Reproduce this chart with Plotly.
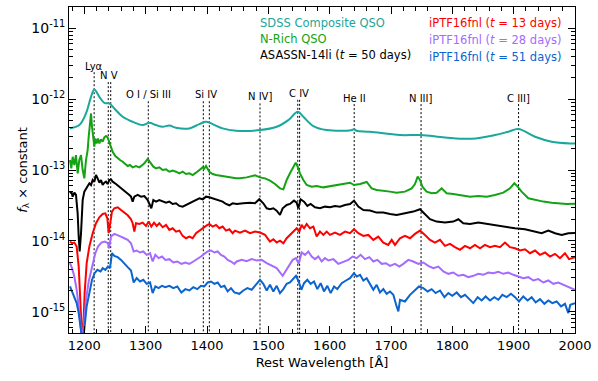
import plotly.graph_objects as go

# ---------------- data (rest wavelength in Angstrom, log10 of f_lambda x constant) ----------------
sdss_wave = [1176.6, 1191.8, 1202.7, 1210.9, 1216.3, 1224.5, 1232.6, 1240.8, 1248.9, 1262.5, 1278.8,
             1295.1, 1306.0, 1316.8, 1327.7, 1338.6, 1349.5, 1371.2, 1387.5, 1398.4, 1409.2, 1425.5,
             1447.3, 1486.4, 1513.6, 1532.6, 1548.0, 1557.1, 1573.4, 1595.1, 1635.0, 1639.7, 1644.0,
             1665.8, 1714.7, 1748.9, 1788.0, 1831.5, 1869.5, 1891.3, 1907.6, 1934.8, 1961.9, 1991.8, 2000.0]
sdss_logf = [-12.413, -12.366, -12.202, -11.967, -11.864, -11.967, -12.052, -12.061, -12.132, -12.249, -12.320,
             -12.366, -12.334, -12.366, -12.390, -12.371, -12.404, -12.413, -12.352, -12.320, -12.352, -12.413,
             -12.446, -12.437, -12.390, -12.296, -12.179, -12.249, -12.381, -12.437, -12.440, -12.425, -12.446,
             -12.460, -12.507, -12.507, -12.540, -12.559, -12.507, -12.460, -12.423, -12.531, -12.601, -12.625, -12.625]

nrich_wave = [1176.6, 1178.8, 1181.0, 1183.7, 1186.4, 1189.1, 1191.8, 1194.6, 1197.3, 1200.0, 1202.7, 1205.4,
              1207.1, 1209.3, 1210.9, 1212.5, 1214.7, 1216.3, 1217.9, 1220.1, 1222.3, 1224.5, 1227.2, 1229.9,
              1232.6, 1235.3, 1238.0, 1240.8, 1246.2, 1250.5, 1254.3, 1258.2, 1262.5, 1266.8, 1270.7, 1274.5,
              1278.8, 1284.2, 1289.7, 1294.0, 1297.8, 1303.3, 1308.7, 1312.5, 1316.8, 1322.3, 1327.7, 1333.2,
              1338.6, 1344.0, 1349.5, 1354.9, 1360.3, 1365.8, 1371.2, 1376.6, 1382.1, 1387.5, 1393.0, 1395.7,
              1398.4, 1403.8, 1409.2, 1414.7, 1422.8, 1431.0, 1439.1, 1447.3, 1453.8, 1464.7, 1478.3, 1486.4,
              1494.6, 1502.7, 1510.9, 1519.0, 1524.5, 1529.9, 1535.3, 1540.8, 1544.6, 1547.8, 1551.6, 1557.1,
              1562.5, 1570.7, 1578.8, 1589.7, 1600.5, 1611.4, 1622.3, 1633.2, 1639.7, 1649.5, 1660.3, 1668.5,
              1676.6, 1687.5, 1698.4, 1709.2, 1722.8, 1733.7, 1739.1, 1743.5, 1747.3, 1751.1, 1758.1, 1766.3,
              1774.4, 1782.6, 1790.7, 1801.6, 1815.2, 1828.8, 1842.4, 1856.0, 1869.5, 1883.1, 1894.0, 1901.1,
              1906.5, 1913.0, 1923.9, 1934.8, 1948.3, 1961.9, 1975.5, 1986.4, 2000.0]
nrich_logf = [-12.859, -12.977, -12.813, -12.930, -12.789, -13.047, -12.859, -12.789, -13.000, -13.118, -12.859, -12.719,
              -12.531, -12.343, -12.202, -12.390, -12.531, -12.672, -12.554, -12.625, -12.554, -12.625, -12.568, -12.601,
              -12.540, -12.521, -12.540, -12.601, -12.742, -12.803, -12.836, -12.859, -12.883, -12.916, -12.944, -12.930,
              -12.963, -12.944, -12.963, -12.935, -12.906, -12.845, -12.906, -12.953, -12.977, -12.963, -13.000, -12.991,
              -13.024, -13.009, -13.024, -13.047, -13.024, -13.057, -13.047, -13.071, -13.038, -13.000, -12.963, -12.981,
              -12.944, -13.024, -13.057, -13.071, -13.085, -13.094, -13.104, -13.118, -13.118, -13.104, -13.075, -13.104,
              -13.118, -13.151, -13.198, -13.259, -13.273, -13.141, -13.047, -12.944, -12.897, -12.953, -13.047, -13.141,
              -13.212, -13.235, -13.226, -13.245, -13.226, -13.212, -13.198, -13.179, -13.212, -13.198, -13.169, -13.259,
              -13.282, -13.291, -13.305, -13.320, -13.305, -13.259, -13.198, -13.094, -13.141, -13.235, -13.305, -13.329,
              -13.320, -13.259, -13.329, -13.338, -13.352, -13.376, -13.367, -13.376, -13.352, -13.320, -13.259, -13.188,
              -13.235, -13.305, -13.399, -13.423, -13.446, -13.461, -13.470, -13.479, -13.475]

asassn_wave = [1176.6, 1178.8, 1181.0, 1183.7, 1186.4, 1189.1, 1190.8, 1192.4, 1194.6, 1197.3, 1200.0, 1202.7,
               1205.4, 1208.2, 1210.9, 1213.6, 1216.3, 1219.0, 1221.7, 1224.5, 1227.2, 1229.9, 1232.6, 1235.3,
               1238.0, 1240.8, 1243.5, 1246.2, 1251.6, 1257.1, 1262.5, 1267.9, 1273.4, 1276.1, 1278.8, 1281.5,
               1287.0, 1292.4, 1297.8, 1303.3, 1307.1, 1309.2, 1312.5, 1316.8, 1322.3, 1327.7, 1333.2, 1338.6,
               1344.0, 1349.5, 1354.9, 1360.3, 1365.8, 1371.2, 1379.3, 1387.5, 1393.0, 1398.4, 1403.8, 1409.2,
               1417.4, 1425.5, 1431.0, 1436.4, 1441.8, 1448.4, 1459.2, 1470.1, 1478.3, 1485.3, 1491.8, 1497.3,
               1502.7, 1508.2, 1513.6, 1519.0, 1523.4, 1529.9, 1535.3, 1541.8, 1546.2, 1548.9, 1552.7, 1558.2,
               1563.6, 1569.0, 1576.1, 1584.2, 1592.4, 1600.5, 1608.7, 1616.8, 1625.0, 1633.2, 1639.7, 1646.7,
               1654.9, 1665.8, 1676.6, 1687.5, 1698.4, 1709.2, 1722.8, 1736.4, 1747.3, 1755.4, 1763.6, 1774.4,
               1788.0, 1801.6, 1809.8, 1817.9, 1828.8, 1842.4, 1856.0, 1869.5, 1885.8, 1902.2, 1918.5, 1934.8,
               1945.6, 1956.5, 1967.4, 1978.3, 1989.1, 2000.0]
asassn_logf = [-13.329, -13.305, -13.376, -13.320, -13.352, -13.611, -13.939, -14.150, -13.892, -13.423, -13.305, -13.259,
               -13.226, -13.188, -13.212, -13.141, -13.165, -13.071, -13.118, -13.179, -13.141, -13.212, -13.179, -13.165,
               -13.198, -13.141, -13.132, -13.165, -13.198, -13.235, -13.273, -13.305, -13.352, -13.376, -13.446, -13.376,
               -13.352, -13.376, -13.367, -13.423, -13.517, -13.540, -13.423, -13.446, -13.423, -13.446, -13.461, -13.446,
               -13.479, -13.470, -13.507, -13.517, -13.493, -13.470, -13.432, -13.399, -13.413, -13.376, -13.385, -13.399,
               -13.423, -13.446, -13.479, -13.498, -13.470, -13.479, -13.470, -13.461, -13.470, -13.413, -13.470, -13.540,
               -13.554, -13.540, -13.573, -13.634, -13.540, -13.493, -13.479, -13.432, -13.461, -13.540, -13.413, -13.446,
               -13.507, -13.479, -13.526, -13.540, -13.517, -13.526, -13.507, -13.517, -13.493, -13.479, -13.432, -13.517,
               -13.564, -13.573, -13.601, -13.601, -13.620, -13.634, -13.611, -13.587, -13.554, -13.620, -13.695, -13.728,
               -13.742, -13.728, -13.695, -13.751, -13.761, -13.742, -13.761, -13.775, -13.798, -13.822, -13.836, -13.869,
               -13.892, -13.855, -13.892, -13.916, -13.892, -13.888]

ptf13_wave = [1176.6, 1179.9, 1183.7, 1187.5, 1190.8, 1193.5, 1196.2, 1198.4, 1200.5, 1203.8, 1208.2, 1213.6,
              1219.0, 1224.5, 1229.9, 1234.2, 1237.5, 1239.7, 1242.4, 1245.1, 1248.9, 1254.3, 1259.8, 1265.2,
              1270.7, 1276.1, 1278.8, 1281.5, 1284.2, 1289.7, 1295.1, 1300.5, 1304.9, 1309.2, 1313.6, 1318.0,
              1322.3, 1327.7, 1333.2, 1338.6, 1344.0, 1349.5, 1354.9, 1360.3, 1365.8, 1371.2, 1376.6, 1382.1,
              1387.5, 1393.0, 1398.4, 1403.8, 1409.2, 1414.7, 1420.1, 1425.5, 1431.0, 1436.4, 1441.8, 1445.7,
              1453.8, 1462.0, 1470.1, 1478.3, 1486.4, 1494.6, 1502.7, 1508.2, 1513.6, 1519.0, 1524.5, 1529.9,
              1535.3, 1540.8, 1546.2, 1550.5, 1554.3, 1558.2, 1562.5, 1567.9, 1573.4, 1578.8, 1584.2, 1589.7,
              1595.1, 1600.5, 1608.7, 1616.8, 1625.0, 1633.2, 1639.7, 1646.7, 1654.9, 1663.0, 1671.2, 1679.3,
              1687.5, 1695.6, 1701.1, 1706.5, 1714.7, 1722.8, 1731.0, 1739.1, 1747.3, 1755.4, 1763.6, 1771.7,
              1779.9, 1788.0, 1796.2, 1804.3, 1812.5, 1820.6, 1828.8, 1836.9, 1845.1, 1853.2, 1861.4, 1869.5,
              1877.7, 1885.8, 1894.0, 1902.2, 1910.3, 1918.5, 1926.6, 1934.8, 1942.9, 1951.1, 1959.2, 1967.4,
              1975.5, 1983.7, 1990.2, 2000.0]
ptf13_logf = [-14.010, -14.033, -14.024, -14.080, -14.362, -14.831, -15.348, -15.207, -14.737, -14.315, -14.080, -13.892,
              -13.751, -13.667, -13.620, -13.611, -13.681, -13.892, -13.751, -13.587, -13.540, -13.526, -13.564, -13.601,
              -13.639, -13.695, -13.751, -13.869, -13.751, -13.761, -13.742, -13.789, -13.728, -13.798, -13.742, -13.789,
              -13.751, -13.808, -13.775, -13.845, -13.822, -13.869, -13.855, -13.930, -13.963, -13.939, -13.963, -13.892,
              -13.855, -13.822, -13.789, -13.761, -13.798, -13.775, -13.822, -13.798, -13.855, -13.836, -13.892, -13.855,
              -13.883, -13.855, -13.892, -13.869, -13.883, -13.916, -14.010, -13.977, -14.024, -13.996, -14.033, -13.963,
              -13.916, -13.869, -13.822, -13.869, -13.775, -13.822, -13.761, -13.822, -13.798, -13.939, -13.869, -13.916,
              -13.869, -13.916, -13.883, -13.916, -13.869, -13.892, -13.836, -13.892, -13.930, -13.916, -13.986, -13.939,
              -14.024, -14.057, -13.986, -14.057, -13.963, -13.930, -13.963, -13.902, -13.855, -13.916, -13.986, -14.024,
              -13.986, -14.071, -14.043, -14.089, -14.127, -14.071, -14.104, -14.057, -14.104, -14.057, -14.089, -14.071,
              -14.089, -14.024, -14.089, -14.104, -14.136, -14.118, -14.174, -14.136, -14.197, -14.164, -14.221, -14.183,
              -14.244, -14.174, -14.258, -14.230]

ptf28_wave = [1176.6, 1179.9, 1183.7, 1187.5, 1190.8, 1194.0, 1196.2, 1199.5, 1202.7, 1207.1, 1212.5, 1217.9,
              1222.3, 1227.8, 1233.2, 1238.6, 1240.2, 1243.5, 1248.9, 1254.3, 1259.8, 1265.2, 1270.7, 1276.1,
              1280.4, 1285.3, 1290.8, 1296.2, 1301.6, 1307.1, 1311.4, 1315.8, 1321.2, 1326.6, 1332.1, 1338.6,
              1345.1, 1351.6, 1358.2, 1364.7, 1371.2, 1377.7, 1384.2, 1390.2, 1395.7, 1401.1, 1406.5, 1412.0,
              1417.4, 1422.8, 1428.3, 1433.7, 1439.1, 1444.6, 1448.4, 1456.5, 1464.7, 1472.8, 1481.0, 1489.1,
              1497.3, 1505.4, 1513.6, 1519.0, 1523.4, 1528.8, 1534.2, 1539.7, 1545.1, 1549.5, 1554.3, 1559.8,
              1565.2, 1570.7, 1576.1, 1581.5, 1587.0, 1592.4, 1597.8, 1606.0, 1614.1, 1622.3, 1630.4, 1637.5,
              1644.0, 1650.5, 1657.6, 1664.7, 1671.2, 1677.7, 1684.8, 1691.8, 1698.4, 1706.5, 1713.6, 1720.1,
              1728.2, 1736.4, 1744.5, 1752.7, 1760.8, 1769.0, 1777.2, 1785.3, 1793.5, 1801.6, 1809.8, 1817.9,
              1826.1, 1834.2, 1842.4, 1850.5, 1858.7, 1866.8, 1875.0, 1883.1, 1891.3, 1899.4, 1907.6, 1915.7,
              1923.9, 1932.1, 1940.2, 1948.3, 1956.5, 1964.6, 1972.8, 1980.9, 1989.1, 2000.0]
ptf28_logf = [-14.315, -14.385, -14.503, -14.690, -14.925, -15.207, -15.395, -15.160, -14.831, -14.573, -14.362, -14.174,
              -14.080, -14.024, -14.010, -14.033, -14.104, -13.939, -13.902, -13.916, -13.939, -13.963, -13.986, -14.033,
              -14.150, -14.136, -14.164, -14.150, -14.197, -14.174, -14.291, -14.197, -14.244, -14.221, -14.268, -14.258,
              -14.305, -14.291, -14.324, -14.305, -14.324, -14.291, -14.258, -14.221, -14.183, -14.150, -14.136, -14.164,
              -14.150, -14.197, -14.221, -14.268, -14.291, -14.324, -14.291, -14.268, -14.287, -14.258, -14.277, -14.268,
              -14.315, -14.352, -14.385, -14.446, -14.493, -14.418, -14.352, -14.268, -14.244, -14.324, -14.164, -14.197,
              -14.150, -14.221, -14.258, -14.221, -14.291, -14.244, -14.277, -14.258, -14.324, -14.291, -14.268, -14.221,
              -14.244, -14.197, -14.258, -14.230, -14.291, -14.268, -14.324, -14.315, -14.352, -14.324, -14.362, -14.324,
              -14.268, -14.291, -14.324, -14.305, -14.352, -14.385, -14.362, -14.432, -14.465, -14.446, -14.493, -14.479,
              -14.512, -14.493, -14.465, -14.479, -14.446, -14.456, -14.437, -14.465, -14.446, -14.479, -14.503, -14.526,
              -14.512, -14.559, -14.540, -14.587, -14.559, -14.606, -14.587, -14.620, -14.653, -14.690]

ptf51_wave = [1176.6, 1179.9, 1183.7, 1187.5, 1190.8, 1194.0, 1197.3, 1200.5, 1203.8, 1208.2, 1212.5, 1216.8,
              1221.2, 1226.5, 1229.9, 1234.2, 1238.6, 1241.8, 1245.1, 1248.9, 1254.3, 1259.8, 1265.2, 1270.7,
              1276.1, 1280.4, 1285.3, 1290.8, 1296.2, 1301.6, 1307.1, 1311.4, 1315.8, 1321.2, 1326.6, 1332.1,
              1338.6, 1345.1, 1351.6, 1358.2, 1364.7, 1371.2, 1377.7, 1384.2, 1390.2, 1395.7, 1401.1, 1406.5,
              1412.0, 1417.4, 1422.8, 1428.3, 1433.7, 1439.1, 1444.6, 1452.7, 1459.2, 1465.8, 1472.8, 1479.9,
              1486.4, 1491.8, 1497.3, 1502.7, 1508.2, 1513.6, 1519.0, 1524.5, 1529.9, 1535.3, 1540.8, 1545.1,
              1549.5, 1553.8, 1558.2, 1563.6, 1569.0, 1574.5, 1579.9, 1585.3, 1590.8, 1596.2, 1601.6, 1607.1,
              1612.5, 1619.6, 1626.6, 1633.2, 1639.7, 1644.0, 1649.5, 1654.9, 1660.3, 1665.8, 1671.2, 1676.6,
              1682.0, 1687.5, 1692.9, 1698.4, 1703.8, 1709.2, 1712.0, 1714.7, 1722.8, 1731.0, 1739.1, 1745.6,
              1752.7, 1759.8, 1766.3, 1772.8, 1779.9, 1787.0, 1793.5, 1800.0, 1807.1, 1814.1, 1820.6, 1827.2,
              1834.2, 1841.3, 1847.8, 1854.3, 1861.4, 1868.5, 1875.0, 1881.5, 1888.6, 1895.6, 1902.2, 1908.7,
              1915.7, 1922.8, 1929.3, 1935.8, 1942.9, 1950.0, 1956.5, 1963.0, 1970.1, 1977.2, 1983.7, 1989.1,
              1992.3, 2000.0]
ptf51_logf = [-14.643, -14.714, -14.784, -14.878, -15.019, -15.207, -15.442, -15.207, -14.925, -14.737, -14.550, -14.456,
              -14.409, -14.432, -14.385, -14.409, -14.362, -14.385, -14.174, -14.211, -14.230, -14.268, -14.324, -14.371,
              -14.418, -14.587, -14.526, -14.573, -14.550, -14.606, -14.587, -14.737, -14.643, -14.667, -14.634, -14.653,
              -14.634, -14.667, -14.643, -14.728, -14.681, -14.700, -14.653, -14.681, -14.634, -14.643, -14.587, -14.573,
              -14.606, -14.587, -14.653, -14.634, -14.714, -14.667, -14.728, -14.747, -14.700, -14.667, -14.690, -14.620,
              -14.550, -14.606, -14.700, -14.620, -14.714, -14.634, -14.737, -14.681, -14.606, -14.587, -14.540, -14.493,
              -14.573, -14.690, -14.597, -14.550, -14.606, -14.573, -14.681, -14.597, -14.714, -14.634, -14.737, -14.643,
              -14.681, -14.597, -14.559, -14.526, -14.456, -14.503, -14.479, -14.559, -14.526, -14.606, -14.690, -14.620,
              -14.728, -14.681, -14.747, -14.714, -14.761, -14.925, -14.995, -14.831, -14.855, -14.761, -14.700, -14.643,
              -14.667, -14.714, -14.681, -14.737, -14.700, -14.794, -14.737, -14.775, -14.728, -14.794, -14.761, -14.822,
              -14.878, -14.794, -14.841, -14.784, -14.841, -14.794, -14.831, -14.761, -14.794, -14.747, -14.794, -14.855,
              -14.784, -14.841, -14.794, -14.869, -14.822, -14.888, -14.841, -14.878, -14.855, -14.925, -14.888, -15.019,
              -14.902, -14.878]

# emission-line markers
line_names = ["Ly\u03b1", "N V", "O I / Si III", "Si IV", "N IV]", "C IV", "He II", "N III]", "C III]"]
line_waves = [[1216.0], [1239.0, 1243.0], [1304.3], [1394.0, 1403.8], [1486.4], [1548.0, 1551.0],
              [1640.0], [1749.0], [1908.0]]

series = [
    ("SDSS Composite QSO", sdss_wave, sdss_logf, "#1aa79c", "spline"),
    ("N-Rich QSO", nrich_wave, nrich_logf, "#13a313", "linear"),
    ("ASASSN-14li", asassn_wave, asassn_logf, "#000000", "linear"),
    ("iPTF16fnl t=13", ptf13_wave, ptf13_logf, "#ff0000", "linear"),
    ("iPTF16fnl t=28", ptf28_wave, ptf28_logf, "#a56bff", "linear"),
    ("iPTF16fnl t=51", ptf51_wave, ptf51_logf, "#0c64cf", "linear"),
]

# ---------------- layout settings ----------------
Y_LO, Y_HI = -15.3, -10.7
label_y = [-11.535, -11.66, -11.93, -11.93, -11.965, -11.92, -11.985, -11.985, -11.985]
line_top = [-11.62, -11.76, -12.03, -12.03, -12.06, -12.01, -12.07, -12.07, -12.07]
label_x = [1216.0, 1241.0, 1304.3, 1398.9, 1486.4, 1549.5, 1640.0, 1749.0, 1908.0]

FONT = "DejaVu Sans"
fig = go.Figure()

# dotted line markers
for waves, top in zip(line_waves, line_top):
    for w in waves:
        fig.add_trace(go.Scatter(x=[w, w], y=[10 ** top, 10 ** Y_LO], mode="lines",
                                 line=dict(color="black", width=1, dash="2px,2px"),
                                 hoverinfo="skip", showlegend=False))

for name, w, lf, col, shape in series:
    fig.add_trace(go.Scatter(x=w, y=[10 ** v for v in lf], mode="lines", name=name,
                             line=dict(color=col, width=2, shape=shape), showlegend=False))

for name, x, y in zip(line_names, label_x, label_y):
    fig.add_annotation(x=x, y=y, xref="x", yref="y", text=name, showarrow=False,
                       font=dict(family=FONT, size=10, color="black"))

legend_left = [("SDSS Composite QSO", "#1aa79c"), ("N-Rich QSO", "#13a313"),
               ("ASASSN-14li (<i>t</i> = 50 days)", "#000000")]
legend_right = [("iPTF16fnl (<i>t</i> = 13 days)", "#ff0000"),
                ("iPTF16fnl (<i>t</i> = 28 days)", "#a56bff"),
                ("iPTF16fnl (<i>t</i> = 51 days)", "#0c64cf")]
left_ypix = [23, 39, 55]
right_ypix = [23, 40, 57]
plot_top, plot_h = 7, 326
for (txt, col), yp in zip(legend_left, left_ypix):
    fig.add_annotation(x=0.373, y=1 - (yp - plot_top) / plot_h, xref="paper", yref="paper",
                       xanchor="left", yanchor="middle", text=txt, showarrow=False,
                       font=dict(family=FONT, size=11.5, color=col))
for (txt, col), yp in zip(legend_right, right_ypix):
    fig.add_annotation(x=0.976, y=1 - (yp - plot_top) / plot_h, xref="paper", yref="paper",
                       xanchor="right", yanchor="middle", text=txt, showarrow=False,
                       font=dict(family=FONT, size=11.5, color=col))

xticks = [1200, 1300, 1400, 1500, 1600, 1700, 1800, 1900, 2000]
ytick_exp = [-15, -14, -13, -12, -11]
minor_y = [m * 10.0 ** e for e in range(-16, -10) for m in range(2, 10)]

fig.update_xaxes(range=[1175, 2000], tickvals=xticks, ticktext=[str(t) for t in xticks],
                 ticks="inside", ticklen=7, tickwidth=1, tickcolor="black",
                 showline=True, linecolor="black", linewidth=1, mirror="ticks",
                 showgrid=False, zeroline=False,
                 minor=dict(dtick=20, tick0=1200, ticks="inside", ticklen=4, tickcolor="black", showgrid=False),
                 tickfont=dict(family=FONT, size=13, color="black"),
                 title=dict(text="Rest Wavelength [\u00c5]", font=dict(family=FONT, size=13, color="black"),
                            standoff=6))
fig.update_yaxes(type="log", range=[Y_LO, Y_HI], tickvals=[10.0 ** e for e in ytick_exp],
                 ticktext=["10<sup>%d</sup>" % e for e in ytick_exp],
                 ticks="inside", ticklen=7, tickwidth=1, tickcolor="black",
                 showline=True, linecolor="black", linewidth=1, mirror="ticks",
                 showgrid=False, zeroline=False,
                 minor=dict(tickvals=minor_y, ticks="inside", ticklen=4, tickcolor="black", showgrid=False),
                 tickfont=dict(family=FONT, size=14, color="black"),
                 title=dict(text="<i>f</i><sub>\u03bb</sub> \u00d7 constant",
                            font=dict(family=FONT, size=13, color="black"), standoff=0))

fig.update_layout(width=598, height=381, margin=dict(l=69, r=23, t=7, b=48, autoexpand=False),
                  paper_bgcolor="white", plot_bgcolor="white")

fig.write_html("out.html", config={"displayModeBar": False},
               post_script="document.body.style.margin='0';document.body.style.overflow='hidden';")
